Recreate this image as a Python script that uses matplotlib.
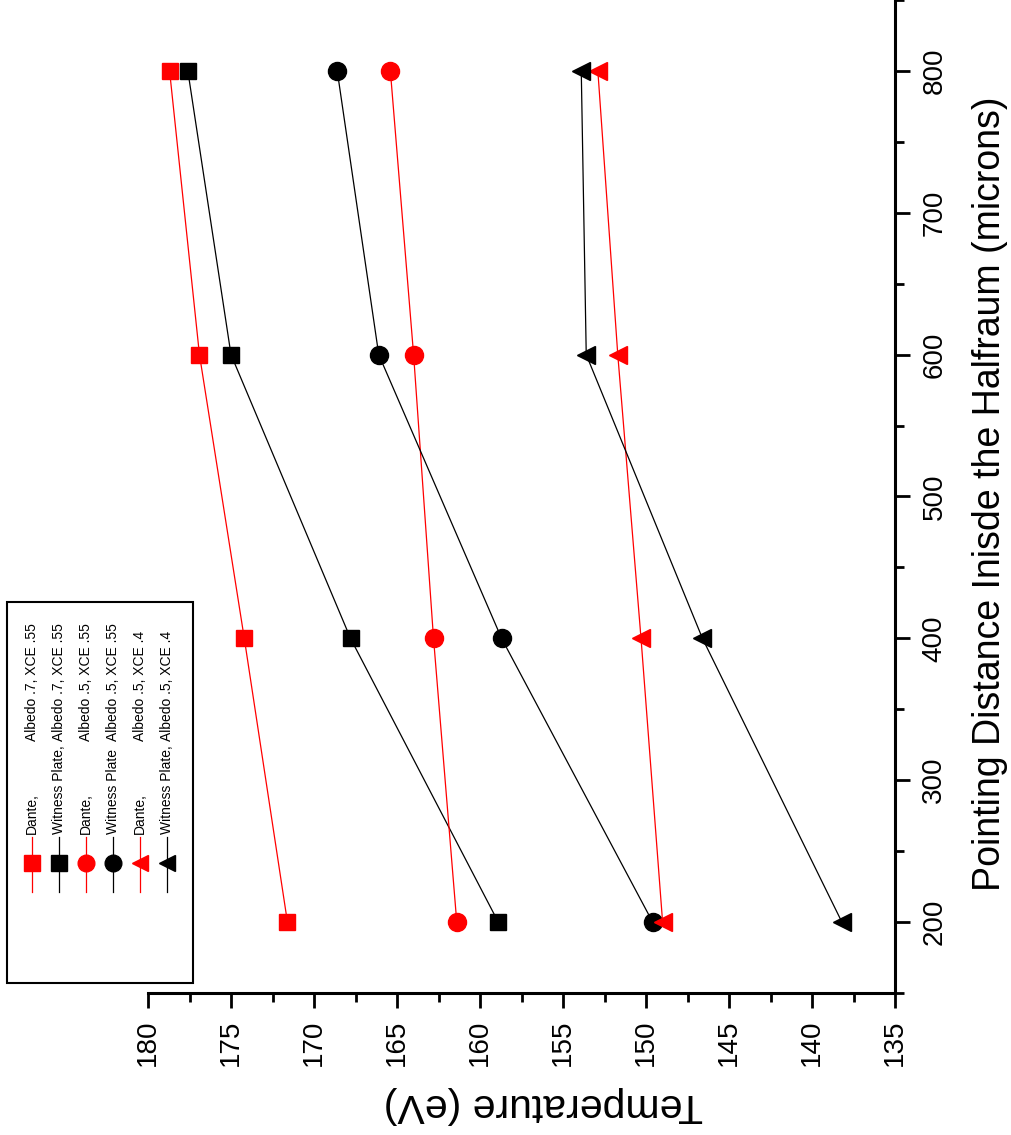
import matplotlib
matplotlib.use("Agg")
from matplotlib import pyplot as plt
from matplotlib.lines import Line2D
from matplotlib.patches import Rectangle
from matplotlib.ticker import MultipleLocator

plt.rcParams['font.family'] = ['Liberation Sans', 'DejaVu Sans']

# pointing distance (microns) and temperatures (eV)
distance = [200, 400, 600, 800]
dante_a7 = [171.6, 174.2, 176.9, 178.7]
witness_a7 = [158.9, 167.8, 175.0, 177.6]
dante_a5 = [161.4, 162.8, 164.0, 165.4]
witness_a5 = [149.6, 158.7, 166.1, 168.6]
dante_a5_x4 = [149.0, 150.3, 151.7, 152.9]
witness_a5_x4 = [138.2, 146.6, 153.6, 153.9]

labels_left = ["Dante,", "Witness Plate,", "Dante,", "Witness Plate", "Dante,", "Witness Plate,"]
labels_right = ["Albedo .7, XCE .55", "Albedo .7, XCE .55", "Albedo .5, XCE .55",
                "Albedo .5, XCE .55", "Albedo .5, XCE .4", "Albedo .5, XCE .4"]

series = [dante_a7, witness_a7, dante_a5, witness_a5, dante_a5_x4, witness_a5_x4]
colors = ['red', 'black', 'red', 'black', 'red', 'black']
markers = ['s', 's', 'o', 'o', '<', '<']
msizes = [12, 12, 13, 13, 13, 13]

W, H = 1012, 1135
fig = plt.figure(figsize=(W / 100, H / 100), dpi=100)
# the chart is drawn turned a quarter turn: temperature runs along the bottom, distance up the right
ax = fig.add_axes([148 / W, 1 - 993 / H, (895 - 148) / W, 993 / H])

for temps, c, m, ms in zip(series, colors, markers, msizes):
    ax.plot(temps, distance, color=c, lw=0.9, marker=m, ms=ms, mec=c, mfc=c)

ax.set_xlim(180, 135)
ax.set_ylim(150, 850)
ax.xaxis.set_major_locator(MultipleLocator(5))
ax.xaxis.set_minor_locator(MultipleLocator(2.5))
ax.yaxis.set_major_locator(MultipleLocator(100))
ax.yaxis.set_minor_locator(MultipleLocator(50))
ax.yaxis.tick_right()

for s in ['top', 'left']:
    ax.spines[s].set_visible(False)
for s in ['bottom', 'right']:
    ax.spines[s].set_linewidth(2.2)

ax.tick_params(which='major', direction='out', length=11, width=2, labelsize=20, pad=8)
ax.tick_params(which='minor', direction='out', length=6.5, width=2)
for lab in ax.get_xticklabels():
    lab.set_rotation(90)
for lab in ax.get_yticklabels():
    lab.set_rotation(90)
    lab.set_verticalalignment('center')

fig.text(543 / W, 1 - 1105 / H, "Temperature (eV)", rotation=180,
         ha='center', va='center', fontsize=29.5)
fig.text(990 / W, 1 - 494 / H, "Pointing Distance Inisde the Halfraum (microns)",
         rotation=90, ha='center', va='center', fontsize=27)

# hand-built legend, turned like the rest of the chart
fig.add_artist(Rectangle((7 / W, 1 - 983 / H), 186 / W, 381 / H, transform=fig.transFigure,
                         facecolor='white', edgecolor='black', lw=1.5))
for i in range(6):
    xp = (32 + 27 * i) / W
    fig.add_artist(Line2D([xp, xp], [1 - 892 / H, 1 - 837 / H], transform=fig.transFigure,
                          color=colors[i], lw=0.9))
    fig.add_artist(Line2D([xp], [1 - 863 / H], transform=fig.transFigure, color=colors[i],
                          marker=markers[i], ms=msizes[i] - 1, mfc=colors[i], mec=colors[i]))
    fig.text(xp, 1 - 834 / H, labels_left[i], rotation=90, ha='center', va='bottom', fontsize=10)
    fig.text(xp, 1 - 741 / H, labels_right[i], rotation=90, ha='center', va='bottom', fontsize=10)

fig.savefig("out.png", dpi=100)
